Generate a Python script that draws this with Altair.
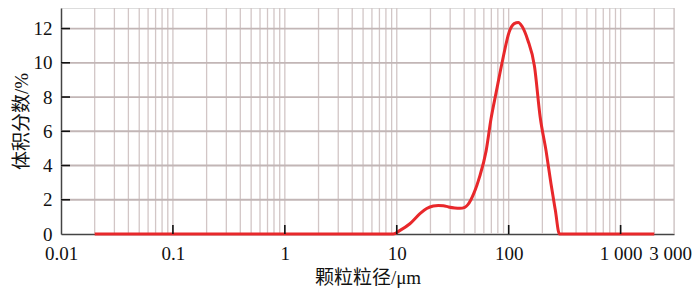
import altair as alt
import pandas as pd

# Particle size distribution
size_um = [0.02, 9.3, 10.7, 13.1, 16.2, 18.5, 21.2, 23.5, 26.1, 29.0, 33.0, 36.7,
           40.5, 43.0, 46.0, 49.0, 52.0, 55.0, 62.8, 69.6, 77.3, 88.4, 101, 112,
           122, 131.6, 148, 170, 191, 216, 239, 261, 284, 2000]
volume_pct = [0, 0, 0.21, 0.6, 1.2, 1.49, 1.64, 1.67, 1.65, 1.58, 1.52, 1.50,
              1.56, 1.70, 2.0, 2.4, 2.85, 3.35, 4.84, 6.74, 8.27, 10.18, 11.8, 12.29,
              12.36, 12.13, 11.33, 9.8, 6.85, 4.84, 2.92, 1.4, 0, 0]

decades = [0.01, 0.1, 1, 10, 100, 1000]
mantissas = [1, 2, 3, 4, 5, 6, 7, 8, 9]
x_grid = [m * d for d in decades for m in mantissas if 0.01 < m * d <= 3000]
x_label_values = [0.01, 0.1, 1, 10, 100, 1000, 3000]
x_label_text = ["0.01", "0.1", "1", "10", "100", "1 000", "3 000"]
x_ticks = [0.1, 1, 10, 100, 1000]
y_grid = [2, 4, 6, 8, 10, 12]
y_labels = [0, 2, 4, 6, 8, 10, 12]

label_expr = "".join(f"datum.value == {k} ? '{v}' : "
                     for k, v in zip(x_label_values, x_label_text)) + "''"

FONT = "Liberation Serif, Noto Sans CJK SC"
W, H = 613, 226
XT = "颗粒粒径/μm"
YT = "体积分数/%"
GRID = "#d2c6c6"
HGRID = "#c2b6b6"

xscale = alt.Scale(type="log", domain=[0.01, 3000], nice=False)
yscale = alt.Scale(domain=[0, 13.2], nice=False, zero=True)

df = pd.DataFrame({"size": size_um, "vol": volume_pct})

xaxis = alt.Axis(values=x_label_values, labelExpr=label_expr, labelOverlap=False,
                 ticks=False, tickSize=0, grid=False, domainColor="#444", domainWidth=1.5,
                 labelFont=FONT, labelFontSize=19, labelColor="#111",
                 labelPadding=10, labelFlush=False, labelBound=False,
                 labelOffset=alt.ConditionalAxisNumber(
                     condition={"test": "datum.value == 3000", "value": -4}, value=0),
                 titleFont=FONT, titleFontSize=19, titleFontWeight="normal",
                 titleColor="#111", titlePadding=5)
yaxis = alt.Axis(values=y_labels, ticks=False, tickSize=0, grid=False, labelOverlap=False,
                 domainColor="#444", domainWidth=1.5, labelFont=FONT, labelFontSize=19,
                 labelColor="#111", labelPadding=9,
                 titleFont=FONT, titleFontSize=19, titleFontWeight="normal",
                 titleColor="#111", titlePadding=2)

vgrid = alt.Chart(pd.DataFrame({"size": x_grid})).mark_rule(color=GRID, strokeWidth=1.3).encode(
    x=alt.X("size:Q", scale=xscale, title=XT, axis=xaxis),
    y=alt.value(0),
    y2=alt.value(H),
)
hgrid = alt.Chart(pd.DataFrame({"vol": y_grid})).mark_rule(color=HGRID, strokeWidth=1.8).encode(
    y=alt.Y("vol:Q", scale=yscale, title=YT, axis=yaxis),
    x=alt.value(0),
    x2=alt.value(W),
)

line = alt.Chart(df).mark_line(color="#e8282b", strokeWidth=3, interpolate="monotone").encode(
    x=alt.X("size:Q", scale=xscale, title=XT, axis=xaxis),
    y=alt.Y("vol:Q", scale=yscale, title=YT, axis=yaxis),
)

xt = alt.Chart(pd.DataFrame({"size": x_ticks})).mark_rule(color="#111", strokeWidth=1.6).encode(
    x=alt.X("size:Q", scale=xscale, title=XT, axis=xaxis),
    y=alt.value(H),
    y2=alt.value(H - 9),
)

yt = alt.Chart(pd.DataFrame({"vol": y_grid})).mark_rule(color="#111", strokeWidth=1.6).encode(
    y=alt.Y("vol:Q", scale=yscale, title=YT, axis=yaxis),
    x=alt.value(0),
    x2=alt.value(9),
)

chart = alt.layer(vgrid, hgrid, line, xt, yt).properties(
    width=W, height=H,
    autosize=alt.AutoSizeParams(type="none"),
    padding={"left": 53, "top": 0, "right": 18, "bottom": 56},
).configure_view(stroke="#555", strokeWidth=1.5).configure(background="white")

chart.save("out.html", embed_options={"renderer": "svg", "actions": False})
